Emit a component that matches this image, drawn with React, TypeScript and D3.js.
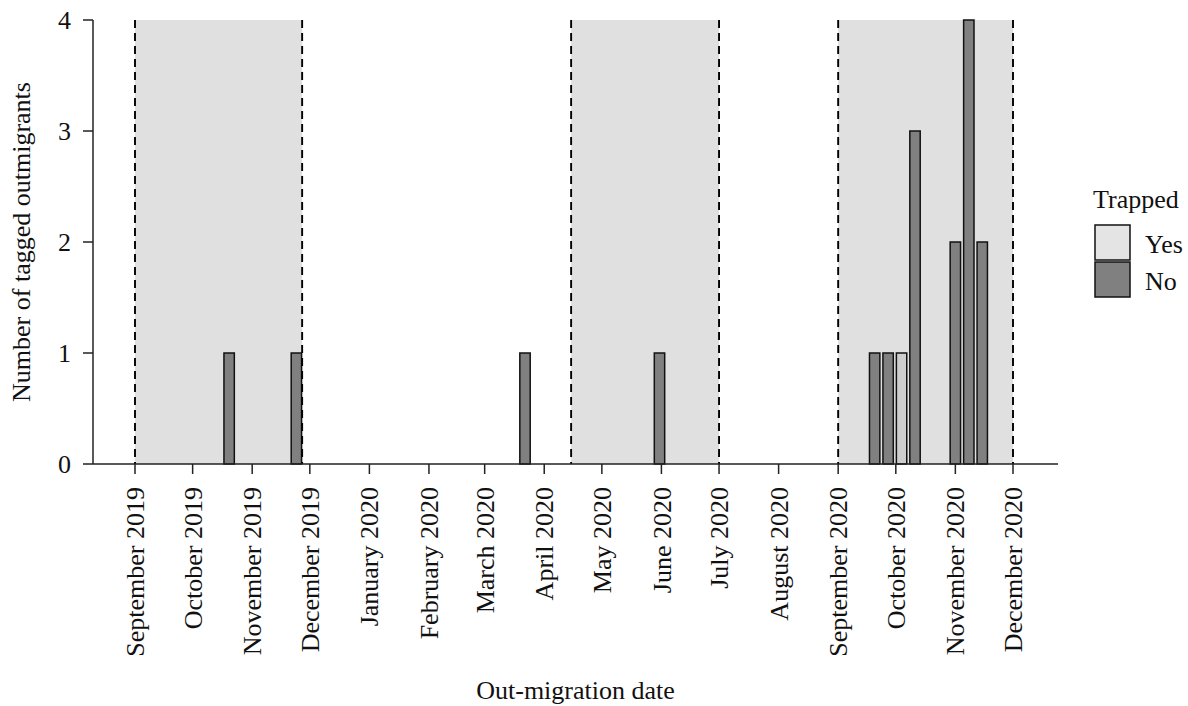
import React from "react";
import * as d3 from "d3";

const binDates = ["2019-10-20","2019-11-24","2020-03-22","2020-05-31","2020-09-20","2020-09-27","2020-10-04","2020-10-11","2020-11-01","2020-11-08","2020-11-15"];
const yesCounts = [0,0,0,0,0,0,1,0,0,0,0];
const noCounts = [1,1,1,1,1,1,0,3,2,4,2];
const periods = [["2019-09-01","2019-11-27"],["2020-04-15","2020-07-01"],["2020-09-01","2020-12-01"]];
const tickDates = ["2019-09-01","2019-10-01","2019-11-01","2019-12-01","2020-01-01","2020-02-01","2020-03-01","2020-04-01","2020-05-01","2020-06-01","2020-07-01","2020-08-01","2020-09-01","2020-10-01","2020-11-01","2020-12-01"];
const yTicks = [0,1,2,3,4];
const legendItems = ["Yes","No"];

const W = 1188, H = 706;
const m = { left: 93, right: 1058, top: 20, bottom: 464 };
const FONT = "'Liberation Serif', 'Times New Roman', serif";
const FS = 26;
const fills: Record<string,string> = { Yes: "#cdcdcd", No: "#808080" };
const legendFills: Record<string,string> = { Yes: "#e4e4e4", No: "#808080" };

const d = (s: string) => new Date(s + "T00:00:00Z");
const DAY = 86400000;

export default function App() {
  // Sep 1 2019 -> 135px, Dec 1 2020 -> 1013px
  const ref = d3.scaleUtc().domain([d("2019-09-01"), d("2020-12-01")]).range([135, 1013]);
  const x = d3.scaleUtc().domain([ref.invert(m.left), ref.invert(m.right)]).range([m.left, m.right]);
  const y = d3.scaleLinear().domain([0, 4]).range([m.bottom, m.top]);
  const halfW = 2.7 * DAY;
  const fmt = d3.utcFormat("%B %Y");

  const bars: JSX.Element[] = [];
  binDates.forEach((s, i) => {
    const c = d(s).getTime();
    const x0 = x(new Date(c - halfW)), x1 = x(new Date(c + halfW));
    let base = 0;
    [["No", noCounts[i]], ["Yes", yesCounts[i]]].forEach(([k, v]) => {
      const val = v as number;
      if (val > 0) {
        bars.push(<rect key={s + k} x={x0} width={x1 - x0} y={y(base + val)} height={y(base) - y(base + val)}
          fill={fills[k as string]} stroke="#111" strokeWidth={1.5} />);
        base += val;
      }
    });
  });

  return (
    <svg width={W} height={H} style={{ position: "absolute", left: 0, top: 0, background: "#fff" }} fontFamily={FONT}>
      {periods.map(([a, b]) => (
        <rect key={a} x={x(d(a))} width={x(d(b)) - x(d(a))} y={m.top} height={m.bottom - m.top} fill="#e0e0e0" />
      ))}
      {bars}
      {periods.flat().map((s) => (
        <line key={"dl" + s} x1={x(d(s))} x2={x(d(s))} y1={m.top} y2={m.bottom} stroke="#000" strokeWidth={1.9} strokeDasharray="8,5" />
      ))}
      {/* axes */}
      <line x1={m.left} x2={m.right} y1={m.bottom} y2={m.bottom} stroke="#222" strokeWidth={1.5} />
      <line x1={m.left} x2={m.left} y1={m.top} y2={m.bottom} stroke="#222" strokeWidth={1.5} />
      {yTicks.map((t) => (
        <g key={"y" + t}>
          <line x1={m.left - 10} x2={m.left} y1={y(t)} y2={y(t)} stroke="#222" strokeWidth={1.5} />
          <text x={m.left - 22} y={y(t)} dy="0.35em" textAnchor="end" fontSize={FS} fill="#111">{t}</text>
        </g>
      ))}
      {tickDates.map((s) => {
        const px = x(d(s));
        return (
          <g key={"x" + s}>
            <line x1={px} x2={px} y1={m.bottom} y2={m.bottom + 10} stroke="#222" strokeWidth={1.5} />
            <text transform={`translate(${px},${m.bottom + 23}) rotate(-90)`} dy="0.35em" textAnchor="end" fontSize={FS} fill="#111">{fmt(d(s))}</text>
          </g>
        );
      })}
      <text x={(m.left + m.right) / 2} y={699} textAnchor="middle" fontSize={FS} fill="#111">Out-migration date</text>
      <text transform={`translate(30,${(m.top + m.bottom) / 2}) rotate(-90)`} textAnchor="middle" fontSize={FS} fill="#111">Number of tagged outmigrants</text>
      {/* legend */}
      <text x={1093} y={208} fontSize={FS} fill="#111">Trapped</text>
      {legendItems.map((k, i) => (
        <g key={"lg" + k}>
          <rect x={1095} y={225 + i * 37} width={35} height={35} fill={legendFills[k]} stroke="#111" strokeWidth={1.5} />
          <text x={1145} y={225 + i * 37 + 17.5 + 10} fontSize={FS} fill="#111">{k}</text>
        </g>
      ))}
    </svg>
  );
}
